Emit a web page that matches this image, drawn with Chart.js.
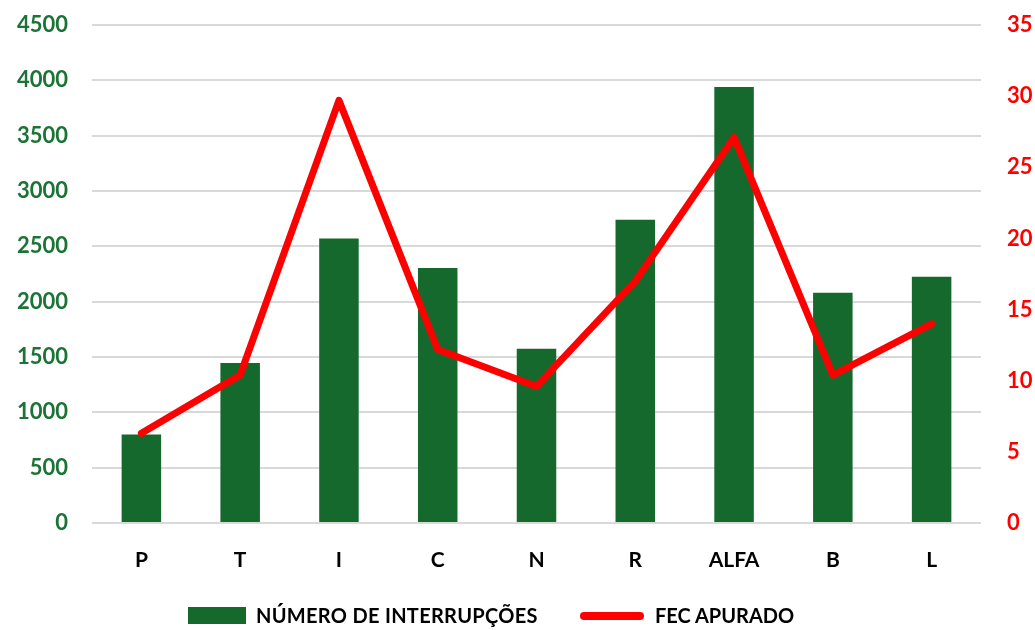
<!DOCTYPE html>
<html lang="pt-BR">

<head>
    <meta charset="UTF-8">
    <title>Interrupções x FEC</title>
    <script src="https://cdn.jsdelivr.net/npm/chart.js"></script>
    <style>
        body { margin: 0; background: #fff; }
        .grafico { position: relative; width: 1035px; height: 630px; }
        .legenda span { position: absolute; font: bold 20px Lato, "Open Sans", sans-serif; color: #000; white-space: nowrap; }
        .caixa { left: 188px; top: 607px; width: 58px; height: 17px; background: #15692D; }
        .linha { left: 580px; top: 612px; width: 64px; height: 8px; border-radius: 4px; background: #FF0000; }
    </style>
</head>

<body>
    <div class="grafico">
        <canvas id="graficoFec" width="1035" height="630"></canvas>
        <div class="legenda">
            <span class="caixa"></span>
            <span id="txtBarra" style="left:256px; top:603px; letter-spacing:0.3px;">NÚMERO DE INTERRUPÇÕES</span>
            <span class="linha"></span>
            <span id="txtLinha" style="left:655px; top:603px;">FEC APURADO</span>
        </div>
    </div>

<script>
    const categorias = ['P', 'T', 'I', 'C', 'N', 'R', 'ALFA', 'B', 'L'];
    const interrupcoes = [800, 1445, 2570, 2305, 1575, 2740, 3940, 2080, 2225];
    const fecApurado = [6.3, 10.4, 29.7, 12.2, 9.6, 17.0, 27.1, 10.4, 14.0];
    const ticksEsquerda = [0, 500, 1000, 1500, 2000, 2500, 3000, 3500, 4000, 4500];
    const ticksDireita = [0, 5, 10, 15, 20, 25, 30, 35];

    const verde = '#15692D';
    const vermelho = '#FF0000';
    const fonte = 'Lato, "Open Sans", sans-serif';

    // tira o respiro que o chart.js reserva pros rotulos do topo
    function semRespiro(scale, largura) {
        scale.width = largura;
        scale.paddingTop = 0;
        scale.paddingBottom = 0;
    }

    const ctx = document.getElementById('graficoFec').getContext('2d');

    new Chart(ctx, {
        data: {
            labels: categorias,
            datasets: [
                {
                    type: 'line',
                    label: 'FEC APURADO',
                    data: fecApurado,
                    yAxisID: 'y1',
                    borderColor: vermelho,
                    borderWidth: 7,
                    borderJoinStyle: 'round',
                    borderCapStyle: 'round',
                    pointRadius: 0,
                    tension: 0,
                    order: 0
                },
                {
                    type: 'bar',
                    label: 'NÚMERO DE INTERRUPÇÕES',
                    data: interrupcoes,
                    yAxisID: 'y',
                    backgroundColor: verde,
                    barPercentage: 0.4,
                    categoryPercentage: 1,
                    order: 1
                }
            ]
        },
        options: {
            responsive: false,
            animation: false,
            layout: { padding: { top: 25, left: 0, right: 0, bottom: 0 } },
            plugins: {
                legend: { display: false },
                tooltip: { enabled: false }
            },
            scales: {
                x: {
                    grid: { display: false },
                    border: { display: false },
                    ticks: {
                        color: '#000',
                        padding: 17,
                        font: { family: fonte, size: 21, weight: 'bold' }
                    },
                    afterFit: scale => { scale.height = 107; }
                },
                y: {
                    position: 'left',
                    min: 0,
                    max: 4500,
                    afterBuildTicks: scale => { scale.ticks = ticksEsquerda.map(v => ({ value: v })); },
                    grid: { color: '#D9D9D9', lineWidth: 2, drawTicks: false },
                    border: { display: false },
                    ticks: {
                        color: '#1B7335',
                        padding: 24,
                        font: { family: fonte, size: 22, weight: 'bold' },
                        callback: v => String(v)
                    },
                    afterFit: scale => semRespiro(scale, 92)
                },
                y1: {
                    position: 'right',
                    min: 0,
                    max: 35,
                    afterBuildTicks: scale => { scale.ticks = ticksDireita.map(v => ({ value: v })); },
                    grid: { display: false, drawTicks: false },
                    border: { display: false },
                    ticks: {
                        color: vermelho,
                        padding: 26,
                        font: { family: fonte, size: 22, weight: 'bold' },
                        callback: v => String(v)
                    },
                    afterFit: scale => semRespiro(scale, 54)
                }
            }
        }
    });
</script>
</body>

</html>
